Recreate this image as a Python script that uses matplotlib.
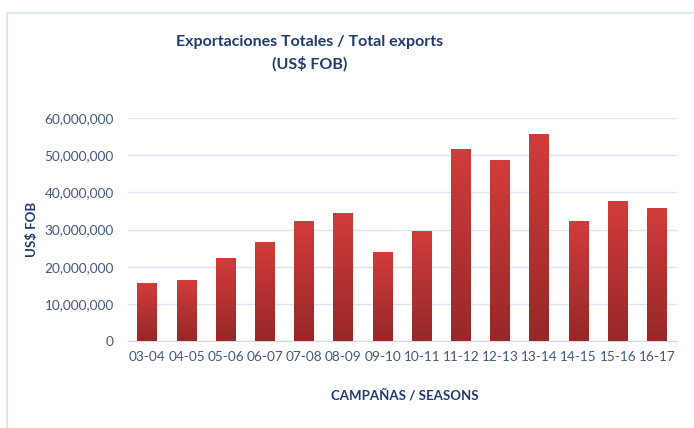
import numpy as np
import matplotlib.pyplot as plt
from matplotlib.patches import Rectangle
from matplotlib.ticker import FuncFormatter
from matplotlib.colors import LinearSegmentedColormap

seasons = ["03-04", "04-05", "05-06", "06-07", "07-08", "08-09", "09-10",
           "10-11", "11-12", "12-13", "13-14", "14-15", "15-16", "16-17"]
exports_usd = [15.7e6, 16.4e6, 22.4e6, 26.6e6, 32.2e6, 34.6e6, 24.0e6,
               29.6e6, 51.8e6, 48.6e6, 55.8e6, 32.3e6, 37.7e6, 35.9e6]
yticks = [0, 10e6, 20e6, 30e6, 40e6, 50e6, 60e6]

plt.rcParams['font.family'] = ['Lato', 'DejaVu Sans']

title_col = "#1F3B6E"
tick_col = "#44597A"

fig = plt.figure(figsize=(6.94, 4.28), dpi=100)
# light border around the chart area
fig.patches.append(Rectangle((7 / 694, -0.1), 1.2, (1 - 13 / 428) + 0.1,
                             transform=fig.transFigure, fill=False,
                             edgecolor="#D6E3F3", linewidth=1.2))

ax = fig.add_axes([0.184, 0.203, 0.791, 0.521])
x = np.arange(len(seasons))
bars = ax.bar(x, exports_usd, width=0.51, color="#C23535", zorder=2)

# vertical gradient inside each bar
grad = np.linspace(0, 1, 256).reshape(-1, 1)
cmap = LinearSegmentedColormap.from_list("redgrad", ["#962828", "#D23C3B"])
for b in bars:
    x0, y0 = b.get_x(), b.get_y()
    w, h = b.get_width(), b.get_height()
    im = ax.imshow(grad, extent=[x0, x0 + w, y0, y0 + h], origin="lower",
                   cmap=cmap, aspect="auto", zorder=3)
    im.set_clip_path(b)

ax.set_xlim(-0.5, len(seasons) - 0.5)
ax.set_ylim(0, 60e6)
ax.set_yticks(yticks)
ax.yaxis.set_major_formatter(FuncFormatter(lambda v, p: f"{int(v):,}"))
ax.set_xticks(x)
ax.set_xticklabels(seasons)
ax.grid(axis="y", color="#DCE5F2", linewidth=1, zorder=0)
ax.set_axisbelow(True)
for s in ["top", "right", "left"]:
    ax.spines[s].set_visible(False)
ax.spines["bottom"].set_color("#D0DBEA")
ax.tick_params(axis="both", length=0, labelsize=9.8, colors=tick_col)
ax.tick_params(axis="y", pad=10)
ax.tick_params(axis="x", pad=7)

ax.set_ylabel("US$ FOB", fontsize=9.5, fontweight="bold", color=title_col)
ax.yaxis.set_label_coords(-0.174, 0.5)
ax.set_xlabel("CAMPAÑAS / SEASONS", fontsize=9.5, fontweight="bold", color=title_col)
ax.xaxis.set_label_coords(0.505, -0.242)
ax.xaxis.label.set_va("center")
ax.yaxis.label.set_va("center")

fig.text(310 / 694, 1 - 42 / 428, "Exportaciones Totales / Total exports",
         ha="center", va="center", fontsize=11.5, fontweight="bold", color=title_col)
fig.text(310 / 694, 1 - 64 / 428, "(US$ FOB)",
         ha="center", va="center", fontsize=11.5, fontweight="bold", color=title_col)

fig.savefig("out.png", dpi=100)
